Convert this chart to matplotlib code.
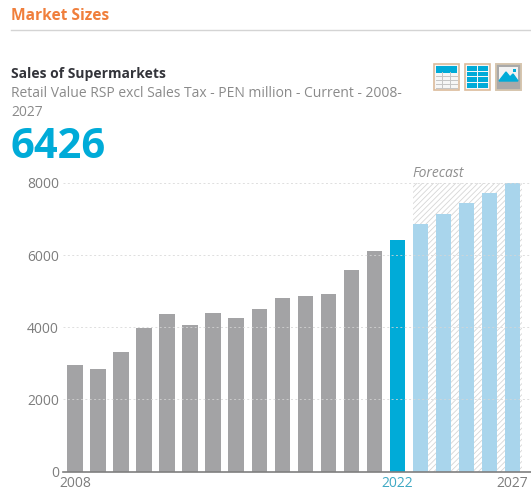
import matplotlib
matplotlib.use("Agg")
import matplotlib.pyplot as plt
from matplotlib.patches import Rectangle

W, H = 531, 492

# sales by year, PEN million
years = list(range(2008, 2028))
sales = [2950, 2850, 3320, 3980, 4370, 4060, 4400, 4270, 4510, 4800,
         4860, 4930, 5580, 6110, 6426, 6860, 7150, 7440, 7720, 8000]
current_year = 2022
y_ticks = [0, 2000, 4000, 6000, 8000]
x_labels = [2008, 2022, 2027]

GREY = "#a3a3a5"
BLUE = "#00abd8"
LIGHT = "#a9d5ec"
TEXT = "#7d7d7d"
ORANGE = "#f07f3c"

plt.rcParams["font.family"] = ["Open Sans", "DejaVu Sans"]
plt.rcParams["hatch.linewidth"] = 0.6

fig = plt.figure(figsize=(W / 100, H / 100), dpi=100, facecolor="white")

# overlay in pixel coordinates for the header and the little icons
top = fig.add_axes([0, 0, 1, 1])
top.set_xlim(0, W)
top.set_ylim(H, 0)
top.axis("off")

top.text(11, 16, "Market Sizes", color=ORANGE, fontsize=11.2, fontweight="bold", va="center")
top.plot([11, W], [29.5, 29.5], color="#d4d4d4", lw=1)
top.text(11, 74, "Sales of Supermarkets", color="#33343a", fontsize=10, fontweight="bold", va="center")
top.text(11, 93.5, "Retail Value RSP excl Sales Tax - PEN million - Current - 2008-",
         color="#8a8a8a", fontsize=10, va="center")
top.text(11, 113, "2027", color="#8a8a8a", fontsize=10, va="center")
top.text(11, 147.5, "6426", color=BLUE, fontsize=30, fontweight="bold", va="center")


def icon(x, kind):
    top.add_patch(Rectangle((x, 64), 25, 26, fc="#f6f6f6", ec="#dcbb9b", lw=1.2))
    if kind == "table":
        top.add_patch(Rectangle((x + 2, 66), 21, 6.5, fc=BLUE, ec="none"))
        for yy in [76, 80, 84, 88]:
            top.plot([x + 2, x + 23], [yy, yy], color="#c4c4c4", lw=0.7)
        for xx in [x + 8, x + 16]:
            top.plot([xx, xx], [72, 88], color="#c4c4c4", lw=0.7)
    elif kind == "grid":
        for i in range(4):
            for j in range(4):
                top.add_patch(Rectangle((x + 2 + i * 5.4, 66 + j * 5.6), 4.8, 4.8, fc=BLUE, ec="none"))
    else:
        top.add_patch(Rectangle((x, 64), 25, 26, fc="#a9a9a9", ec="#d6c6b0", lw=1.2))
        top.add_patch(Rectangle((x + 3, 67), 19, 14, fc="#f2f2f2", ec="none"))
        top.fill([x + 3, x + 10, x + 14, x + 17, x + 22], [81, 72, 77, 74, 81], color=BLUE)
        top.add_patch(Rectangle((x + 17, 69), 3, 3, fc=BLUE, ec="none"))


icon(434, "table")
icon(465, "grid")
icon(496, "image")

# bar chart
left, right, bottom, upper = 63, 531, 471.5, 183
ax = fig.add_axes([left / W, 1 - bottom / H, (right - left) / W, (bottom - upper) / H])
ax.patch.set_alpha(0)
step = 23.03
ax.set_xlim(-(75 - left) / step, (right - 75) / step)
ax.set_ylim(0, 8000)

colors = [GREY if y < current_year else BLUE if y == current_year else LIGHT for y in years]
idx = list(range(len(years)))

# hatched band behind the forecast years
first_fc = years.index(current_year) + 1
ax.add_patch(Rectangle((first_fc - 0.34, 0), 4.75, 8000, facecolor="white", edgecolor="#d6d6d6",
                       hatch="//////", lw=0, zorder=1))
ax.bar(idx, sales, width=0.67, color=colors, zorder=2)

for t in y_ticks[1:]:
    ax.axhline(t, color="#d6d6d6", lw=0.7, ls=(0, (2, 2.5)), zorder=3, alpha=0.8)

for s in ["top", "right", "left"]:
    ax.spines[s].set_visible(False)
ax.spines["bottom"].set_color("#7f7f7f")
ax.spines["bottom"].set_linewidth(1.2)
ax.spines["bottom"].set_zorder(4)

ax.set_yticks(y_ticks)
ax.set_yticklabels([str(t) for t in y_ticks])
ax.tick_params(axis="y", length=0, pad=3, labelsize=10, labelcolor=TEXT)
ax.set_xticks([])

for y in x_labels:
    col = "#3fa9c4" if y == current_year else TEXT
    ax.annotate(str(y), (years.index(y), 0), xytext=(0, -3.5), textcoords="offset points",
                ha="center", va="top", fontsize=10, color=col)

ax.text(first_fc - 0.36, 8060, "Forecast", fontsize=10, style="italic", color="#8f8f8f", va="bottom")

fig.savefig("out.png", dpi=100)
